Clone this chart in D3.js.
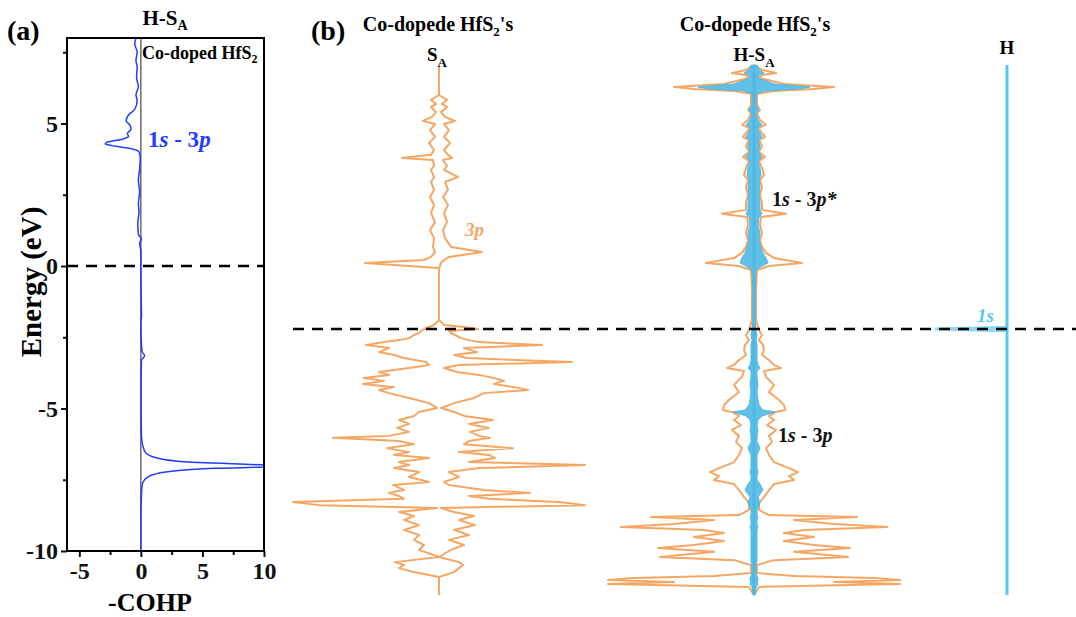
<!DOCTYPE html>
<html>
<head>
<meta charset="utf-8">
<script src="https://cdn.jsdelivr.net/npm/d3@7"></script>
<style>
  body { margin: 0; background: #fff; }
  text { font-family: "Liberation Serif", "Times New Roman", serif; font-weight: bold; }
</style>
</head>
<body>
<div id="chart"></div>
<script>
// panel (a): -COHP of H-SA, [energy, value]
const cohp = [
  [8.0,-0.4],[7.8,-0.5],[7.5,-0.3],[7.2,-0.4],[7.0,-0.3],[6.6,-0.35],[6.3,-0.2],[6.0,-0.4],
  [5.8,-0.3],[5.5,-0.5],[5.3,-1.0],[5.1,-1.2],[4.95,-0.9],[4.8,-0.8],[4.65,-1.1],[4.55,-1.0],
  [4.45,-1.5],[4.35,-2.7],[4.28,-2.9],[4.2,-2.0],[4.1,-0.6],[4.0,-0.15],[3.8,-0.05],[3.4,-0.1],
  [3.0,-0.2],[2.6,-0.1],[2.2,-0.2],[1.9,-0.15],[1.5,-0.25],[1.1,-0.2],[0.95,0.05],[0.8,-0.1],
  [0.5,0],[0.0,0],[-1.0,0.02],[-1.8,0.05],[-1.9,0],[-2.5,0.02],[-3.0,0.1],[-3.15,0.3],[-3.3,0.05],
  [-4.0,0.02],[-5.0,0.02],[-6.0,0.05],[-6.5,0.3],[-6.7,1.0],[-6.85,3.0],[-6.95,8.0],[-7.02,12.0],
  [-7.1,6.0],[-7.2,2.5],[-7.35,0.8],[-7.5,0.3],[-7.7,0.1],[-8.0,0.05],[-9.0,0],[-10.0,0]
];
const yTicksA = [-10, -5, 0, 5];
const yMinorA = [-7.5, -2.5, 2.5, 7.5];
const xTicksA = [-5, 0, 5, 10];
const xMinorA = [-2.5, 2.5, 7.5];

// panel (b): S_A 3p DOS, [energy, spin up (right), spin down (left)]
const saRows = [
  [9.19,0,0],[8.21,0,0],[8.04,0.8,0.8],[7.89,0.3,0.3],[7.79,0.8,0.8],[7.61,0.2,0.3],[7.44,0.6,0.7],
  [7.30,1.6,1.6],[7.19,0.5,0.4],[6.98,1.0,0.9],[6.74,0.5,0.4],[6.53,1.1,1.0],[6.28,0.5,0.5],
  [6.11,0.9,0.8],[6.00,1.3,3.7],[5.93,0.4,0.6],[5.72,0.8,0.5],[5.58,0.5,0.8],[5.33,1.9,0.5],
  [5.16,0.6,0.8],[4.88,0.9,0.5],[4.63,0.4,0.9],[4.35,0.9,0.5],[4.07,0.5,0.8],[3.75,0.8,0.4],
  [3.47,0.4,0.9],[3.19,0.6,0.5],[2.88,1.2,0.6],[2.70,4.3,0.4],[2.53,1.0,0.8],[2.42,0.5,1.5],
  [2.32,0.2,7.4],[2.21,0.1,3.0],[2.14,0,0],[0.32,0,0],
  [0.14,0.5,0.5],[0.07,2.5,1.0],[0.00,3.9,1.5],[-0.07,1.0,1.8],[-0.14,1.2,2.0],[-0.21,1.6,2.5],
  [-0.32,2.2,3.0],[-0.39,3.0,4.0],[-0.46,4.0,5.5],[-0.56,10.3,7.3],[-0.67,2.5,5.0],[-0.81,3.8,6.0],
  [-0.91,1.5,4.5],[-1.02,2.8,3.5],[-1.16,13.3,1.3],[-1.26,2.0,1.0],[-1.37,0.5,3.0],[-1.51,1.8,6.0],
  [-1.61,4.0,5.0],[-1.72,5.5,7.5],[-1.82,6.5,5.5],[-1.93,5.5,7.6],[-2.04,7.5,4.5],[-2.14,8.9,6.0],
  [-2.25,4.5,5.0],[-2.42,3.5,3.0],[-2.60,1.5,1.0],[-2.77,0.2,0.2],[-2.91,1.5,2.0],[-3.05,2.5,2.5],
  [-3.19,5.4,4.0],[-3.33,3.0,3.0],[-3.47,5.0,4.2],[-3.61,3.1,3.0],[-3.75,4.0,5.0],[-3.82,5.1,10.6],
  [-3.93,3.0,4.0],[-4.04,2.5,2.5],[-4.18,7.4,5.2],[-4.32,2.0,3.0],[-4.42,5.0,4.5],[-4.53,5.6,1.0],
  [-4.67,3.0,4.0],[-4.77,14.6,3.0],[-4.88,4.0,4.5],[-5.02,1.0,2.0],[-5.19,2.0,3.0],[-5.37,0.5,1.0],
  [-5.47,1.0,4.6],[-5.65,4.5,3.5],[-5.75,9.1,5.0],[-5.86,3.0,4.0],[-5.96,5.0,3.5],[-6.07,12.0,14.6],
  [-6.18,14.6,12.0],[-6.28,0.2,0.2],[-6.42,1.5,4.0],[-6.56,3.5,2.5],[-6.70,2.0,3.5],[-6.88,3.6,2.0],
  [-7.05,1.5,3.5],[-7.23,3.0,2.0],[-7.40,1.0,2.5],[-7.58,2.5,1.5],[-7.75,1.2,2.0],[-8.00,0,0],
  [-8.18,2.0,4.4],[-8.28,2.4,3.5],[-8.39,2.0,4.0],[-8.53,1.5,2.5],[-8.70,0,0],[-9.33,0,0]
];

// panel (b): H-S_A, [energy, S_A 3p (orange, mirrored), H 1s (blue, mirrored)]
const hsaRows = [
  [9.26,0,0.3],[9.09,0.8,0.5],[8.98,2.2,1.0],[8.91,0.8,0.5],[8.81,0.5,0.4],[8.60,3.0,2.0],
  [8.49,8.0,5.6],[8.42,6.0,4.5],[8.35,2.0,1.0],[8.25,0.3,0.2],[7.86,0.3,0.2],[7.68,0.6,0.5],
  [7.58,0.3,0.2],[7.33,0.6,0.4],[7.16,1.2,0.8],[7.05,0.4,0.3],[6.88,0.8,0.6],[6.74,1.1,0.8],
  [6.63,0.5,0.4],[6.42,0.8,0.6],[6.21,0.5,0.4],[6.04,1.1,0.8],[5.89,0.5,0.4],[5.65,0.8,0.6],
  [5.40,1.0,0.7],[5.23,0.6,0.5],[4.98,0.8,0.6],[4.70,0.6,0.5],[4.42,0.8,0.6],[4.18,0.8,0.6],
  [4.04,3.2,0.8],[3.93,0.7,0.5],[3.65,0.6,0.4],[3.37,0.8,0.6],[3.12,0.6,0.5],[2.88,0.8,0.7],
  [2.67,1.2,0.9],[2.49,2.0,1.2],[2.32,4.8,1.4],[2.21,1.5,0.8],[2.07,0.3,0.2],[1.37,0.2,0.1],
  [0.32,0.2,0.1],[-0.04,0.5,0.2],[-0.21,0.8,0.3],[-0.39,0.5,0.2],[-0.56,0.9,0.3],[-0.74,1.0,0.3],
  [-0.91,0.8,0.3],[-1.09,1.5,0.3],[-1.26,2.0,0.4],[-1.37,2.7,0.6],[-1.47,1.0,0.3],[-1.68,1.2,0.3],
  [-1.96,2.0,0.4],[-2.21,1.5,0.3],[-2.49,2.5,0.4],[-2.67,3.0,0.5],[-2.84,3.1,0.9],[-2.91,2.2,2.1],
  [-3.05,1.5,0.8],[-3.19,2.0,0.4],[-3.37,1.3,0.3],[-3.54,2.2,0.4],[-3.75,1.5,0.3],[-3.96,1.8,0.3],
  [-4.18,1.2,0.6],[-4.42,1.5,0.3],[-4.67,2.0,0.3],[-4.88,3.5,0.3],[-5.02,4.4,0.4],[-5.16,3.5,0.3],
  [-5.30,4.0,0.3],[-5.44,2.0,0.6],[-5.65,1.5,0.9],[-5.89,1.0,0.4],[-6.11,0.5,0.6],[-6.35,0.5,0.3],
  [-6.53,1.5,0.3],[-6.60,10.3,0.4],[-6.70,4.0,0.3],[-6.84,8.0,0.3],[-6.95,13.3,0.4],[-7.05,5.0,0.3],
  [-7.16,3.0,0.3],[-7.30,6.0,0.3],[-7.44,3.0,0.3],[-7.58,6.0,0.3],[-7.68,9.6,0.3],[-7.82,4.0,0.3],
  [-8.00,9.4,0.3],[-8.11,2.0,0.3],[-8.28,0.3,0.2],[-8.56,0.3,0.2],[-8.67,4.0,0.3],[-8.74,12.0,0.4],
  [-8.81,14.6,0.4],[-8.88,8.0,0.3],[-8.95,14.6,0.4],[-9.05,0.5,0.2],[-9.33,0,0.1]
];

// panel (b): H 1s DOS, [energy, value]
const hRows = [[9.26,0],[0.06,0],[0.0,7.2],[-0.06,0],[-9.33,0]];

const columns = ["SA", "H-SA", "H"];

const W = 1076, H = 617;
const orange = "#f5a663", skyBlue = "#4fb9e6", hBlue = "#5cc6ee";

const svg = d3.select("#chart").append("svg")
  .attr("width", W).attr("height", H);

// ---------- panel (a)
const xA = d3.scaleLinear().domain([-6, 10]).range([67, 264]);
const yA = d3.scaleLinear().domain([-10, 8]).range([551, 38]);

const fmt = d => String(d);

svg.append("g")
  .attr("transform", `translate(${xA(-6)},0)`)
  .call(d3.axisLeft(yA).tickValues(yMinorA).tickSize(4).tickFormat(""))
  .call(g => g.select(".domain").remove());
svg.append("g")
  .attr("transform", `translate(${xA(-6)},0)`)
  .call(d3.axisLeft(yA).tickValues(yTicksA).tickSize(6).tickPadding(3).tickFormat(fmt))
  .call(g => g.select(".domain").remove())
  .call(g => g.selectAll("text").attr("font-size", 24).attr("fill", "#111"));
svg.append("g")
  .attr("transform", `translate(0,${yA(-10)})`)
  .call(d3.axisBottom(xA).tickValues(xMinorA).tickSize(4).tickFormat(""))
  .call(g => g.select(".domain").remove());
svg.append("g")
  .attr("transform", `translate(0,${yA(-10)})`)
  .call(d3.axisBottom(xA).tickValues(xTicksA).tickSize(6).tickPadding(5).tickFormat(fmt))
  .call(g => g.select(".domain").remove())
  .call(g => g.selectAll("text").attr("font-size", 24).attr("fill", "#111"));
svg.selectAll(".tick line").attr("stroke", "#111").attr("stroke-width", 2);

// zero line
svg.append("line")
  .attr("x1", xA(0)).attr("x2", xA(0)).attr("y1", yA(8)).attr("y2", yA(-10))
  .attr("stroke", "#222").attr("stroke-width", 1);

svg.append("defs").append("clipPath").attr("id", "clipA")
  .append("rect").attr("x", xA(-6)).attr("y", yA(8))
  .attr("width", xA(10) - xA(-6)).attr("height", yA(-10) - yA(8));

svg.append("path")
  .datum(cohp)
  .attr("clip-path", "url(#clipA)")
  .attr("fill", "none").attr("stroke", "#1f3cff").attr("stroke-width", 1.5)
  .attr("d", d3.line().x(d => xA(d[1])).y(d => yA(d[0])).curve(d3.curveMonotoneY));

// Fermi level
svg.append("line")
  .attr("x1", xA(-6)).attr("x2", xA(10)).attr("y1", yA(0)).attr("y2", yA(0))
  .attr("stroke", "#000").attr("stroke-width", 2.5).attr("stroke-dasharray", "11,8");

svg.append("rect")
  .attr("x", xA(-6)).attr("y", yA(8))
  .attr("width", xA(10) - xA(-6)).attr("height", yA(-10) - yA(8))
  .attr("fill", "none").attr("stroke", "#000").attr("stroke-width", 2);

// texts (a)
svg.append("text").attr("x", 7).attr("y", 40).attr("font-size", 28).text("(a)");
const tA = svg.append("text").attr("x", 165).attr("y", 25).attr("text-anchor", "middle").attr("font-size", 21);
tA.append("tspan").text("H-S");
tA.append("tspan").attr("font-size", 14).attr("dy", 5).text("A");

const tC = svg.append("text").attr("x", 142).attr("y", 59).attr("font-size", 18);
tC.append("tspan").text("Co-doped HfS");
tC.append("tspan").attr("font-size", 12).attr("dy", 4).text("2");

const t1 = svg.append("text").attr("x", 148).attr("y", 147).attr("font-size", 23).attr("fill", "#1f3cff");
t1.append("tspan").text("1");
t1.append("tspan").attr("font-style", "italic").text("s");
t1.append("tspan").text(" - 3");
t1.append("tspan").attr("font-style", "italic").text("p");

svg.append("text")
  .attr("transform", "translate(41,282) rotate(-90)")
  .attr("text-anchor", "middle").attr("font-size", 29).text("Energy (eV)");
svg.append("text").attr("x", 150).attr("y", 611).attr("text-anchor", "middle")
  .attr("font-size", 26).text("-COHP");

// ---------- panel (b)
const yB = d3.scaleLinear().domain([-10, 10]).range([614, 44]);
const dosX = d3.scaleLinear().domain([0, 15]).range([0, 150]);
const colX = d3.scaleOrdinal().domain(columns).range([439, 754, 1007]);

function sideLine(cx, sign, idx) {
  return d3.line().x(r => cx + sign * dosX(r[idx])).y(r => yB(r[0]));
}

// S_A
const cSA = colX("SA");
svg.append("path").datum(saRows).attr("fill", "none").attr("stroke", orange)
  .attr("stroke-width", 2).attr("stroke-linejoin", "round").attr("d", sideLine(cSA, 1, 1));
svg.append("path").datum(saRows).attr("fill", "none").attr("stroke", orange)
  .attr("stroke-width", 2).attr("stroke-linejoin", "round").attr("d", sideLine(cSA, -1, 2));

// H-S_A
const cHSA = colX("H-SA");
svg.append("path").datum(hsaRows).attr("fill", "none").attr("stroke", orange)
  .attr("stroke-width", 2).attr("stroke-linejoin", "round").attr("d", sideLine(cHSA, 1, 1));
svg.append("path").datum(hsaRows).attr("fill", "none").attr("stroke", orange)
  .attr("stroke-width", 2).attr("stroke-linejoin", "round").attr("d", sideLine(cHSA, -1, 1));
svg.append("path").datum(hsaRows)
  .attr("fill", skyBlue).attr("fill-opacity", 0.9).attr("stroke", skyBlue).attr("stroke-width", 1)
  .attr("d", d3.area().y(r => yB(r[0])).x0(r => cHSA - dosX(r[2])).x1(r => cHSA + dosX(r[2])));
svg.append("line")
  .attr("x1", cHSA).attr("x2", cHSA).attr("y1", yB(9.26)).attr("y2", yB(-9.33))
  .attr("stroke", skyBlue).attr("stroke-width", 3);

// H
const cH = colX("H");
svg.append("path").datum(hRows).attr("fill", "none").attr("stroke", "#8fd7f4")
  .attr("stroke-width", 3).attr("d", sideLine(cH, -1, 1));
svg.append("line")
  .attr("x1", cH).attr("x2", cH).attr("y1", yB(9.26)).attr("y2", yB(-9.33))
  .attr("stroke", hBlue).attr("stroke-width", 2.5);

// dashed level in (b)
svg.append("line")
  .attr("x1", 293).attr("x2", W).attr("y1", yB(0)).attr("y2", yB(0))
  .attr("stroke", "#000").attr("stroke-width", 2.5).attr("stroke-dasharray", "11,8");

// texts (b)
svg.append("text").attr("x", 311).attr("y", 40).attr("font-size", 28).text("(b)");

function hfsTitle(x) {
  const t = svg.append("text").attr("x", x).attr("y", 31).attr("text-anchor", "middle").attr("font-size", 20);
  t.append("tspan").text("Co-dopede HfS");
  t.append("tspan").attr("font-size", 13).attr("dy", 5).text("2");
  t.append("tspan").attr("dy", -5).text("'s");
}
hfsTitle(438);
hfsTitle(755);

const tS = svg.append("text").attr("x", cSA - 2).attr("y", 61).attr("text-anchor", "middle").attr("font-size", 19);
tS.append("tspan").text("S");
tS.append("tspan").attr("font-size", 13).attr("dy", 6).text("A");

const tHS = svg.append("text").attr("x", cHSA).attr("y", 61).attr("text-anchor", "middle").attr("font-size", 19);
tHS.append("tspan").text("H-S");
tHS.append("tspan").attr("font-size", 13).attr("dy", 6).text("A");

svg.append("text").attr("x", cH).attr("y", 54).attr("text-anchor", "middle").attr("font-size", 19).text("H");

svg.append("text").attr("x", 465).attr("y", 236).attr("font-size", 19)
  .attr("font-style", "italic").attr("font-weight", "normal").attr("fill", orange).text("3p");

function bondLabel(x, y, star) {
  const t = svg.append("text").attr("x", x).attr("y", y).attr("font-size", 20).attr("fill", "#111");
  t.append("tspan").text("1");
  t.append("tspan").attr("font-style", "italic").text("s");
  t.append("tspan").text(" - 3");
  t.append("tspan").attr("font-style", "italic").text(star ? "p*" : "p");
}
bondLabel(772, 206, true);
bondLabel(778, 442, false);

svg.append("text").attr("x", 977).attr("y", 322).attr("font-size", 19)
  .attr("font-style", "italic").attr("fill", "#5cc6ee").text("1s");
</script>
</body>
</html>
